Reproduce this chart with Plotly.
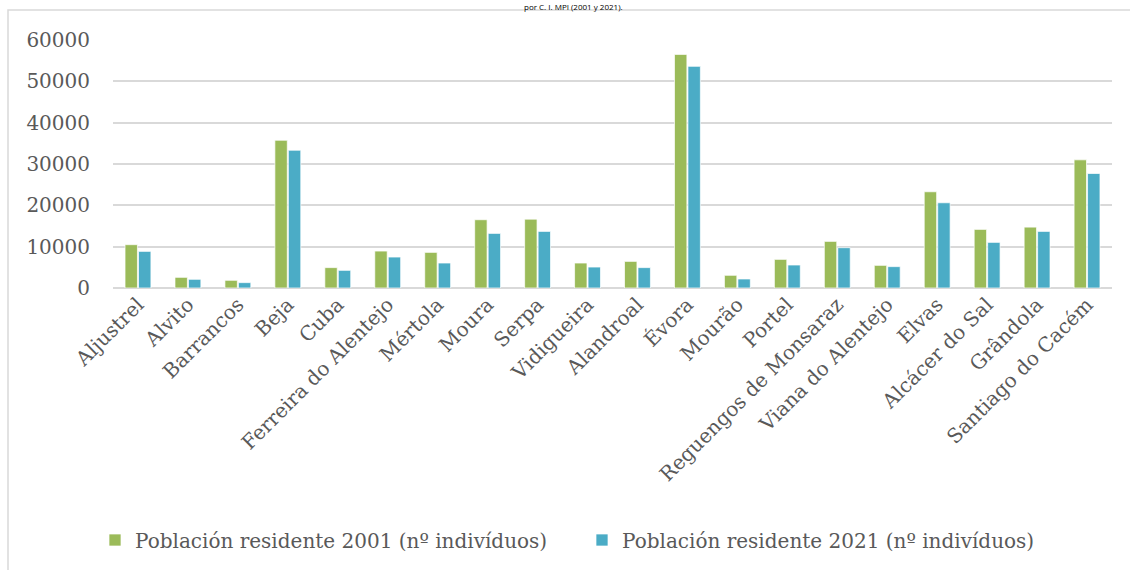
import plotly.graph_objects as go

municipios = ["Aljustrel", "Alvito", "Barrancos", "Beja", "Cuba", "Ferreira do Alentejo",
              "Mértola", "Moura", "Serpa", "Vidigueira", "Alandroal", "Évora", "Mourão",
              "Portel", "Reguengos de Monsaraz", "Viana do Alentejo", "Elvas",
              "Alcácer do Sal", "Grândola", "Santiago do Cacém"]
pob_2001 = [10480, 2580, 1860, 35740, 4930, 8940, 8620, 16520, 16660, 6040, 6440, 56520,
            3070, 6930, 11280, 5480, 23280, 14180, 14730, 31010]
pob_2021 = [8860, 2100, 1300, 33330, 4270, 7490, 6040, 13210, 13690, 5070, 4930, 53620,
            2180, 5560, 9750, 5170, 20620, 11040, 13690, 27700]
nombre_2001 = "Población residente 2001 (nº indivíduos)"
nombre_2021 = "Población residente 2021 (nº indivíduos)"
titulo = "por C. I. MPI (2001 y 2021)."
y_ticks = [0, 10000, 20000, 30000, 40000, 50000, 60000]

W, H = 1130, 570
L, R, T, B = 113, 18, 40, 282
pw, ph = W - L - R, H - T - B

def px_x(px):
    return (px - L) / pw

def px_y(py):
    return (H - B - py) / ph

grey = "#595959"
grid = "#D9D9D9"
fsize = 20

fig = go.Figure()
fig.add_trace(go.Bar(x=municipios, y=pob_2001, name=nombre_2001,
                     marker=dict(color="#9BBB59", line=dict(color="rgba(255,255,255,0.7)", width=1))))
fig.add_trace(go.Bar(x=municipios, y=pob_2021, name=nombre_2021,
                     marker=dict(color="#4BACC6", line=dict(color="rgba(255,255,255,0.7)", width=1))))

fig.update_layout(
    width=W, height=H,
    margin=dict(l=L, r=R, t=T, b=B, autoexpand=False),
    paper_bgcolor="white", plot_bgcolor="white",
    barmode="group", bargap=0.46, bargroupgap=0.08,
    font=dict(family="DejaVu Serif", color=grey, size=fsize),
    showlegend=True,
    legend=dict(orientation="h", x=px_x(95), xanchor="left", y=px_y(540), yanchor="middle",
                font=dict(family="DejaVu Serif", size=fsize, color=grey),
                itemwidth=30, entrywidthmode="pixels", entrywidth=442,
                tracegroupgap=0, bgcolor="rgba(0,0,0,0)"),
    xaxis=dict(tickangle=-45, showgrid=False, showline=False, ticks="",
               tickfont=dict(family="DejaVu Serif", size=fsize, color=grey)),
    yaxis=dict(range=[0, 60000], tickvals=y_ticks, ticktext=[str(v) for v in y_ticks],
               showgrid=True, gridcolor=grid, gridwidth=1.5, zeroline=True,
               zerolinecolor=grid, zerolinewidth=1.5, ticks="", ticklabelstandoff=22,
               tickfont=dict(family="DejaVu Serif", size=fsize, color=grey)),
    shapes=[dict(type="rect", xref="paper", yref="paper",
                 x0=px_x(8), x1=px_x(1140), y0=px_y(600), y1=px_y(10),
                 line=dict(color=grid, width=1.5), fillcolor="rgba(0,0,0,0)", layer="below")],
    annotations=[dict(text=titulo, xref="paper", yref="paper", x=px_x(573), y=px_y(0),
                      xanchor="center", yanchor="top", showarrow=False, borderpad=0,
                      font=dict(family="Open Sans", size=8, color="black"))],
)

fig.write_html("out.html", config={"displayModeBar": False},
               post_script="document.body.style.margin='0';")
